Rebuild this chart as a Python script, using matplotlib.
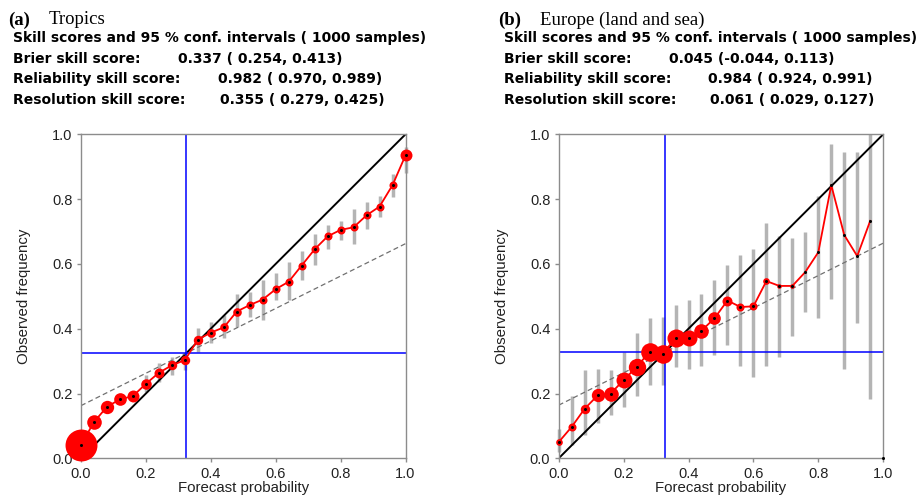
import numpy as np
import matplotlib
matplotlib.use('Agg')
import matplotlib.pyplot as plt

# forecast probability bins (both panels)
prob = [0.00, 0.04, 0.08, 0.12, 0.16, 0.20, 0.24, 0.28, 0.32, 0.36, 0.40, 0.44, 0.48,
        0.52, 0.56, 0.60, 0.64, 0.68, 0.72, 0.76, 0.80, 0.84, 0.88, 0.92, 0.96, 1.00]

# (a) Tropics
obs_a = [0.041, 0.112, 0.159, 0.182, 0.192, 0.230, 0.264, 0.287, 0.303, 0.366, 0.388, 0.404, 0.453,
         0.473, 0.490, 0.522, 0.545, 0.595, 0.645, 0.685, 0.705, 0.713, 0.750, 0.777, 0.843, 0.935]
lo_a = [0.035, 0.105, 0.150, 0.172, 0.180, 0.206, 0.236, 0.257, 0.272, 0.329, 0.355, 0.370, 0.406,
        0.437, 0.427, 0.489, 0.489, 0.550, 0.597, 0.646, 0.674, 0.661, 0.709, 0.746, 0.807, 0.880]
hi_a = [0.047, 0.120, 0.168, 0.192, 0.205, 0.257, 0.293, 0.314, 0.324, 0.401, 0.421, 0.442, 0.506,
        0.514, 0.550, 0.572, 0.607, 0.640, 0.692, 0.720, 0.733, 0.768, 0.790, 0.810, 0.876, 0.960]
size_a = [23, 10.5, 9.6, 9.1, 8.6, 7.6, 7.2, 6.8, 6.8, 6.8, 6.2, 6.2, 6.2,
          5.8, 5.8, 5.8, 5.8, 5.8, 5.8, 5.8, 5.8, 5.8, 5.8, 5.8, 5.8, 8.6]
clim_a = 0.325

# (b) Europe (land and sea)
obs_b = [0.050, 0.097, 0.153, 0.194, 0.200, 0.241, 0.282, 0.328, 0.323, 0.370, 0.371, 0.394, 0.432,
         0.487, 0.467, 0.469, 0.547, 0.532, 0.532, 0.575, 0.636, 0.843, 0.689, 0.624, 0.733, 0.0]
lo_b = [0.020, 0.041, 0.072, 0.110, 0.134, 0.159, 0.192, 0.226, 0.226, 0.283, 0.276, 0.286, 0.319,
        0.349, 0.286, 0.251, 0.286, 0.313, 0.378, 0.452, 0.433, 0.493, 0.277, 0.419, 0.182, np.nan]
hi_b = [0.090, 0.192, 0.273, 0.277, 0.273, 0.329, 0.386, 0.432, 0.437, 0.473, 0.489, 0.506, 0.550,
        0.598, 0.627, 0.645, 0.726, 0.687, 0.679, 0.698, 0.810, 0.970, 0.944, 0.944, 1.000, np.nan]
size_b = [4.8, 5.8, 6.8, 9.6, 10.5, 11.5, 12.5, 13.4, 13.4, 13.0, 11.5, 10.5, 9.1,
          7.2, 5.8, 5.8, 4.8, 3.3, 3.3, 0, 0, 0, 0, 0, 0, 0]
clim_b = 0.328

header_a = ['Brier skill score:', 'Reliability skill score:', 'Resolution skill score:']
values_a = ['0.337 ( 0.254, 0.413)', '0.982 ( 0.970, 0.989)', '0.355 ( 0.279, 0.425)']
values_b = ['0.045 (-0.044, 0.113)', '0.984 ( 0.924, 0.991)', '0.061 ( 0.029, 0.127)']

W, H = 921, 497
fig = plt.figure(figsize=(W / 100, H / 100), dpi=100)
plt.rcParams['font.family'] = ['Liberation Sans', 'DejaVu Sans']


def px(x, y):
    return x / W, 1 - y / H


def panel(left, obs, lo, hi, sizes, clim, nline):
    ax = fig.add_axes([left / W, (H - 458.3) / H, 324.5 / W, 324 / H])
    x = np.array(prob)
    ax.vlines(x, lo, hi, color='#b4b4b4', lw=2.5, zorder=1, clip_on=False)
    ax.plot([0, 1], [0, 1], color='black', lw=1.4, zorder=2)
    ax.plot([0, 1], [clim / 2, (1 + clim) / 2], color='#707070', lw=0.9, ls=(0, (4, 2.5)), zorder=2)
    ax.axhline(clim, color='#0000ff', lw=1.1, zorder=2)
    ax.axvline(clim, color='#0000ff', lw=1.1, zorder=2)
    ax.plot(x[:nline], obs[:nline], color='#ff0000', lw=1.3, zorder=3)
    for xi, yi, s in zip(x, obs, sizes):
        if s > 0:
            ax.plot(xi, yi, 'o', ms=s, color='#ff0000', mew=0, zorder=4, clip_on=False)
    ax.plot(x, obs, 'o', ms=2.2, color='black', mew=0, zorder=5, clip_on=False)
    ax.set_xlim(0, 1)
    ax.set_ylim(0, 1)
    ticks = [0.0, 0.2, 0.4, 0.6, 0.8, 1.0]
    ax.set_xticks(ticks)
    ax.set_yticks(ticks)
    ax.set_xticklabels(['%.1f' % t for t in ticks])
    ax.set_yticklabels(['%.1f' % t for t in ticks])
    for sp in ax.spines.values():
        sp.set_color('#8c8c8c')
        sp.set_linewidth(1.0)
    ax.tick_params(direction='out', length=3, width=1.0, color='#8c8c8c',
                   labelsize=10.5, labelcolor='#222222', pad=3)
    ax.set_xlabel('Forecast probability', fontsize=10.8, color='#222222', labelpad=0)
    ax.set_ylabel('Observed frequency', fontsize=10.8, color='#222222', labelpad=15)
    return ax


panel(81, obs_a, lo_a, hi_a, size_a, clim_a, 26)
panel(558.7, obs_b, lo_b, hi_b, size_b, clim_b, 25)

# headers
serif = ['Liberation Serif', 'DejaVu Serif']
fig.text(*px(8, 24.5), '(a)', family=serif, weight='bold', fontsize=13.5)
fig.text(*px(49, 24.5), 'Tropics', family=serif, fontsize=13.5)
fig.text(*px(498, 24.5), '(b)', family=serif, weight='bold', fontsize=13.5)
fig.text(*px(540, 24.5), 'Europe (land and sea)', family=serif, fontsize=13.5)

sans = ['DejaVu Sans']
fs = 10
title2 = 'Skill scores and 95 % conf. intervals ( 1000 samples)'
base_y = [62.7, 83, 104]
fig.text(*px(13, 42), title2, weight='bold', fontsize=fs, family=sans)
fig.text(*px(504, 42), title2, weight='bold', fontsize=fs, family=sans)
val_x_a = [178, 218, 220]
val_x_b = [669, 708, 710]
for i in range(3):
    fig.text(*px(13, base_y[i]), header_a[i], weight='bold', fontsize=fs, family=sans)
    fig.text(*px(val_x_a[i], base_y[i]), values_a[i], weight='bold', fontsize=fs, family=sans)
    fig.text(*px(504, base_y[i]), header_a[i], weight='bold', fontsize=fs, family=sans)
    fig.text(*px(val_x_b[i], base_y[i]), values_b[i], weight='bold', fontsize=fs, family=sans)

fig.savefig('out.png', dpi=100)
